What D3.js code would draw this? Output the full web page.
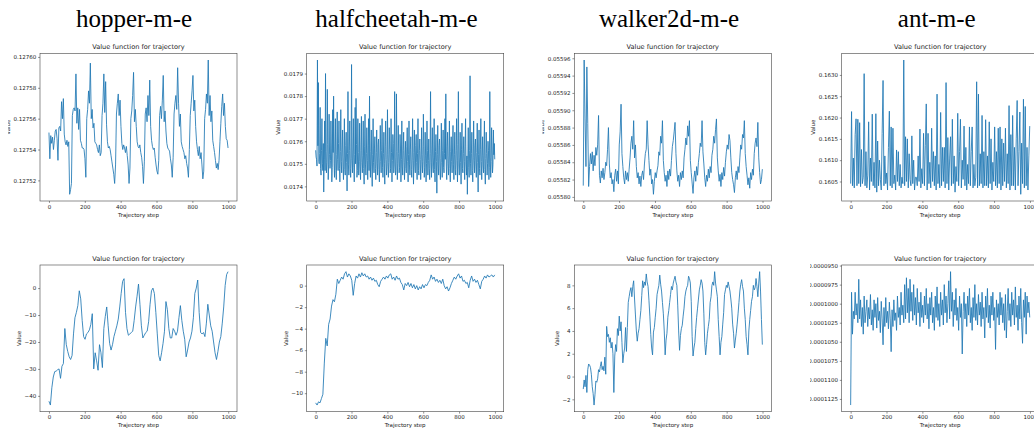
<!DOCTYPE html>
<html>
<head>
<meta charset="utf-8">
<script src="https://cdn.jsdelivr.net/npm/d3@7"></script>
<style>
	body { margin: 0; background: #fff; }
	svg { display: block; }
</style>
</head>
<body>
<svg id="chart" width="1034" height="428"></svg>
<script>
// column headers
var envNames = ["hopper-m-e", "halfcheetah-m-e", "walker2d-m-e", "ant-m-e"];
var plotTitle = "Value function for trajectory";
var xLabel = "Trajectory step";
var yLabel = "Value";
var stepTicks = [0, 200, 400, 600, 800, 1000];

// value along the trajectory (evenly spaced over steps 0..999)
var hopperTop = [
	0.127551,0.127534,0.127549,0.127544,0.127548,0.12754,0.127546,0.127552,0.127553,0.127547,
	0.127533,0.127554,0.127555,0.127552,0.127571,0.12756,0.127573,0.12755,0.127545,0.127543,
	0.127546,0.127542,0.127545,0.127511,0.127514,0.127518,0.127562,0.127566,0.127567,0.127565,
	0.127589,0.127557,0.127567,0.127553,0.127566,0.127546,0.127544,0.127541,0.127541,0.12754,
	0.127534,0.127522,0.12756,0.127566,0.127578,0.12757,0.127596,0.12756,0.127566,0.127554,
	0.127557,0.127545,0.127544,0.127543,0.12754,0.127538,0.127543,0.127536,0.127538,0.127562,
	0.12757,0.127589,0.127564,0.127584,0.127556,0.127545,0.127541,0.127542,0.12754,0.127536,
	0.127532,0.127528,0.127524,0.127518,0.12753,0.127563,0.12757,0.127576,0.127562,0.127572,
	0.127555,0.127544,0.12754,0.127543,0.127541,0.127538,0.127542,0.127536,0.12753,0.127518,
	0.127528,0.12756,0.127565,0.127575,0.12759,0.127558,0.127566,0.127555,0.127545,0.127542,
	0.127541,0.127543,0.127538,0.127535,0.127529,0.127518,0.127532,0.127563,0.127567,0.127558,
	0.127575,0.127562,0.127585,0.127555,0.127546,0.127542,0.12754,0.127541,0.127535,0.12753,
	0.127526,0.127524,0.127533,0.127562,0.127568,0.12756,0.127572,0.127588,0.127558,0.127565,
	0.127552,0.127544,0.127541,0.12754,0.127539,0.127534,0.12753,0.127522,0.127535,0.127563,
	0.12757,0.127575,0.127566,0.127593,0.12757,0.127555,0.127563,0.127545,0.127542,0.12754,
	0.127538,0.127534,0.127536,0.127531,0.127528,0.127522,0.12754,0.127562,0.12757,0.127578,
	0.127588,0.127565,0.127572,0.127555,0.127545,0.12754,0.127536,0.127542,0.127534,0.127538,
	0.12753,0.127521,0.127526,0.12756,0.127566,0.127576,0.12757,0.127598,0.127562,0.127575,
	0.127558,0.127565,0.127546,0.127542,0.127538,0.127533,0.127528,0.127531,0.127527,0.127533,
	0.127545,0.127557,0.127568,0.127576,0.127562,0.12757,0.127555,0.127547,0.127546,0.127541
];

var halfcheetahTop = [
	0.01756,0.01753,0.01752,0.01749,0.01796,0.01758,0.01786,0.01751,0.0175,0.017545,0.01775,0.01748,0.01745,0.01756,0.0177,0.0175,0.01747,0.01759,0.017375,0.01752,
	0.01769,0.01747,0.0179,0.017555,0.01746,0.017505,0.01783,0.017585,0.01743,0.017495,0.01772,0.01754,0.01748,0.017515,0.01769,0.01757,0.01742,0.017485,0.01774,0.01755,
	0.0178,0.0175,0.01744,0.017575,0.0177,0.01747,0.01743,0.01754,0.01773,0.01752,0.01747,0.01759,0.01769,0.01748,0.01742,0.017555,0.01774,0.01751,0.01746,0.017565,
	0.01765,0.01749,0.01743,0.01753,0.0177,0.017475,0.01745,0.01758,0.01764,0.017505,0.01738,0.017545,0.01782,0.017495,0.01745,0.01756,0.01769,0.01748,0.01744,0.017525,
	0.01794,0.017515,0.01746,0.01757,0.0177,0.017485,0.01742,0.01754,0.01775,0.0175,0.01779,0.017585,0.01744,0.01747,0.0177,0.01755,0.01745,0.01751,0.01768,0.01749,
	0.01743,0.01756,0.01771,0.017505,0.01746,0.017535,0.01769,0.01748,0.01741,0.017575,0.01772,0.017495,0.01745,0.017545,0.01766,0.017515,0.01743,0.01758,0.0177,0.01747,
	0.0178,0.01752,0.01744,0.017555,0.01765,0.01749,0.0174,0.01754,0.0177,0.017505,0.01746,0.01757,0.01762,0.01748,0.01743,0.01755,0.01765,0.0175,0.01745,0.017585,
	0.01761,0.017475,0.01742,0.01753,0.01767,0.01751,0.01746,0.01756,0.0177,0.017485,0.01744,0.017545,0.01764,0.0175,0.01741,0.017575,0.01769,0.01752,0.01745,0.01749,
	0.01774,0.01754,0.01744,0.017505,0.01766,0.017565,0.01746,0.01748,0.0177,0.01755,0.01742,0.017515,0.01763,0.01759,0.01746,0.017495,0.01782,0.01753,0.01745,0.01747,
	0.01781,0.017555,0.01743,0.0175,0.01767,0.017545,0.01746,0.017485,0.01763,0.01757,0.01742,0.01752,0.01769,0.01749,0.01745,0.01756,0.01764,0.017505,0.01743,0.017535,
	0.0176,0.01748,0.01746,0.017575,0.01766,0.01751,0.01742,0.01754,0.01769,0.017495,0.01745,0.017565,0.01762,0.017475,0.01744,0.01753,0.0177,0.017515,0.01741,0.01755,
	0.01765,0.01749,0.01746,0.01758,0.01763,0.017505,0.01743,0.017545,0.0177,0.01747,0.01745,0.01756,0.01761,0.01752,0.01743,0.017495,0.01766,0.01754,0.01746,0.01751,
	0.01772,0.017575,0.01744,0.017485,0.01764,0.017535,0.01742,0.0175,0.01769,0.01756,0.01745,0.017515,0.01761,0.01748,0.01743,0.017545,0.01782,0.017505,0.01744,0.01757,
	0.01766,0.01749,0.01746,0.01753,0.0177,0.017475,0.01742,0.017555,0.01763,0.01751,0.01737,0.01754,0.01767,0.017495,0.01745,0.01758,0.01761,0.01747,0.01743,0.017525,
	0.01768,0.017505,0.01744,0.01756,0.01765,0.017485,0.01746,0.017545,0.0177,0.01752,0.01781,0.01749,0.01743,0.017575,0.01764,0.0175,0.01745,0.017535,0.01769,0.01748,
	0.01742,0.017555,0.01762,0.01751,0.01746,0.01757,0.01767,0.017495,0.01743,0.01754,0.01764,0.017475,0.01745,0.01756,0.0177,0.017515,0.01742,0.017585,0.01782,0.01749,
	0.01745,0.01753,0.01764,0.017505,0.01741,0.017565,0.01768,0.01748,0.01746,0.017545,0.01762,0.01751,0.01743,0.017575,0.0177,0.017495,0.01745,0.017535,0.017365,0.01752,
	0.01766,0.017485,0.01744,0.01756,0.01789,0.0175,0.01745,0.017545,0.01764,0.01747,0.01742,0.01753,0.01769,0.017515,0.01746,0.01758,0.01761,0.01749,0.01744,0.01755,
	0.01768,0.017505,0.017375,0.01754,0.01765,0.01748,0.01745,0.017565,0.0177,0.01751,0.01743,0.017535,0.01762,0.017495,0.01746,0.01757,0.01769,0.017475,0.01741,0.017525,
	0.01764,0.017545,0.01745,0.0175,0.0176,0.01756,0.01743,0.017485,0.01782,0.01753,0.01744,0.01751,0.01766,0.017575,0.01746,0.017495,0.01765,0.01754,0.01759,0.01752
];

var walkerTop = [
	0.055813,0.055958,0.05589,0.055835,0.05595,0.055885,0.055812,0.055835,0.05585,0.055838,
	0.055852,0.05583,0.055848,0.055836,0.055857,0.055848,0.05586,0.055894,0.055825,0.055816,
	0.05583,0.055822,0.055833,0.05582,0.055828,0.05584,0.055836,0.055855,0.05588,0.055838,
	0.055822,0.055828,0.055815,0.05582,0.055806,0.055825,0.055832,0.055818,0.05583,0.055815,
	0.05586,0.055875,0.055907,0.05585,0.055835,0.055822,0.055815,0.05583,0.05582,0.055828,
	0.055818,0.055832,0.055845,0.055862,0.05587,0.055855,0.055888,0.055845,0.05586,0.055835,
	0.055822,0.055828,0.055815,0.055824,0.055812,0.055825,0.05583,0.05582,0.055838,0.05585,
	0.055855,0.055888,0.05586,0.055842,0.055825,0.055832,0.055815,0.05582,0.055803,0.055818,
	0.055828,0.055822,0.05583,0.055836,0.055852,0.055848,0.05587,0.055862,0.055888,0.055842,
	0.055828,0.055818,0.055825,0.055812,0.05583,0.05582,0.055832,0.055824,0.055842,0.055858,
	0.055865,0.055875,0.055886,0.05585,0.05583,0.055818,0.055825,0.055812,0.055828,0.05582,
	0.05583,0.055822,0.055845,0.055855,0.055868,0.05586,0.055882,0.05587,0.055888,0.055842,
	0.055828,0.055816,0.055804,0.055822,0.05583,0.055818,0.055835,0.055825,0.05584,0.05585,
	0.055862,0.055858,0.055888,0.055852,0.055838,0.055822,0.055812,0.055825,0.055818,0.055832,
	0.055822,0.055835,0.055828,0.055848,0.055855,0.05587,0.055862,0.055878,0.05589,0.055845,
	0.05583,0.055818,0.055826,0.055812,0.055828,0.05582,0.055834,0.055824,0.05584,0.055852,
	0.05586,0.055855,0.055872,0.055865,0.055845,0.055828,0.05582,0.055814,0.055805,0.055822,
	0.05583,0.05582,0.055835,0.055828,0.055845,0.05586,0.055855,0.055872,0.055868,0.055888,
	0.05585,0.055835,0.055825,0.055814,0.055822,0.05581,0.055828,0.05582,0.055832,0.055825,
	0.05585,0.055862,0.055868,0.055858,0.055886,0.055845,0.055828,0.055815,0.05582,0.055832
];

var antTop = [
	0.16045,0.16214,0.1604,0.16105,0.16035,0.1616,0.16197,0.1604,0.16196,0.16045,
	0.16188,0.16038,0.16125,0.16045,0.1606,0.16303,0.1604,0.1612,0.16035,0.16065,
	0.1619,0.1603,0.16105,0.1605,0.16208,0.1604,0.16095,0.16035,0.16209,0.16025,
	0.16145,0.1604,0.161,0.16055,0.1603,0.16163,0.16287,0.1604,0.1611,0.16045,
	0.1607,0.1603,0.1613,0.16215,0.1604,0.16178,0.16035,0.16175,0.16045,0.16065,
	0.1603,0.16124,0.1605,0.1612,0.1604,0.1609,0.16035,0.1606,0.16045,0.16335,
	0.1604,0.16155,0.1605,0.1615,0.16035,0.16115,0.16055,0.1604,0.16157,0.16045,
	0.161,0.1603,0.1606,0.1606,0.1604,0.1611,0.1605,0.16173,0.16035,0.1608,
	0.16045,0.16163,0.1604,0.16135,0.16232,0.1603,0.16163,0.16045,0.16095,0.16035,
	0.16175,0.1605,0.1612,0.1604,0.1611,0.1603,0.16255,0.16045,0.1609,0.16035,
	0.16212,0.1604,0.1613,0.1605,0.1613,0.16035,0.16282,0.16045,0.16153,0.1603,
	0.16105,0.16155,0.1604,0.16196,0.16045,0.1611,0.16025,0.16085,0.1605,0.1621,
	0.1604,0.1612,0.16196,0.16035,0.161,0.16055,0.1618,0.1604,0.1613,0.1603,
	0.1609,0.16045,0.16178,0.1604,0.1612,0.16178,0.16035,0.1609,0.1604,0.1606,
	0.16284,0.16035,0.16255,0.1604,0.16115,0.16045,0.16205,0.16035,0.1612,0.1604,
	0.16195,0.1604,0.1611,0.16035,0.1619,0.16045,0.1615,0.1603,0.16095,0.1605,
	0.16178,0.1604,0.1612,0.16035,0.16175,0.16045,0.16178,0.1603,0.1615,0.1604,
	0.1614,0.1605,0.16175,0.16035,0.16115,0.16045,0.16228,0.1603,0.1616,0.1604,
	0.16205,0.1604,0.1613,0.1603,0.1615,0.1624,0.1604,0.1612,0.16213,0.1602,
	0.1614,0.16045,0.16243,0.16035,0.16226,0.1604,0.1613,0.1603,0.1611,0.1618
];

var hopperBottom = [
	-42,-43.4,-37,-33,-31,-30.8,-30.3,-30,-33.5,-29,
	-28,-15,-21,-23.5,-25.5,-26.5,-25,-17,-11,-9,
	-6.5,-1,-4,-12,-18,-19,-17,-16.5,-15.5,-13.5,
	-9.5,-30,-24,-27,-30.5,-21,-24,-29.5,-15,-10.5,
	-7,-14,-20.5,-23,-21,-18,-16,-14,-11.5,-7,
	-2,2.5,3.5,-9,-15,-17.5,-17,-16.5,-16,-12,
	-7,-3,1.5,-6,-14,-18.5,-17.5,-16.5,-16,-12.5,
	-6,-1,0,-2,-9,-17,-25,-27,-24,-20.5,
	-16,-5,-8,-15,-18.5,-18.5,-15,-16,-17.5,-16,
	-11,-6.5,-12,-16,-19,-25.5,-23,-20,-18.5,-16,
	-11,-2,0,3,-9,-16.5,-17,-16.5,-18,-13,
	-6,-10,-14,-16,-20,-24,-26.5,-23.5,-20,-18,
	-13,-7,1,5,6.1
];

var halfcheetahBottom = [
	-10.9,-11.1,-10.8,-10.9,-10.5,-10.1,-7.2,-4.9,-5.6,-3.6,
	-3.1,-1.9,-1.3,-1.5,-0.8,0.6,0.2,0.5,0.8,0.6,
	1.1,1.3,0.8,1.1,0.9,0.5,-0.9,0.2,0.9,0.7,
	1.1,0.8,1.2,0.9,1.1,0.8,0.9,0.6,0.8,0.5,
	0.7,0.4,0.5,0.1,-0.1,0.4,0.6,0.8,0.6,0.9,
	0.7,1.0,1.1,0.6,0.8,0.5,0.9,0.6,0.7,0.3,
	0.1,-0.4,0.2,0.0,0.3,-0.1,0.2,-0.2,0.1,-0.3,
	0.0,-0.4,-0.1,-0.3,0.1,-0.2,0.1,0.0,0.3,0.5,
	1.0,0.6,0.8,0.4,0.6,0.3,0.5,0.2,0.6,0.0,
	-0.3,-0.1,-0.5,-0.2,0.2,0.5,0.8,0.6,0.9,1.1,
	0.7,0.9,0.4,0.5,0.2,0.3,-0.2,0.5,0.9,0.4,
	0.6,0.3,0.5,0.1,-0.3,0.4,0.6,0.9,0.7,1.0,
	0.8,0.9,1.0,0.8,1.0
];

var walkerBottom = [
	-1.1,-0.3,-0.9,0.1,-1.4,0.6,1.1,1.0,0.8,0.2,
	-0.9,-1.5,-2.5,-1.6,-0.4,-0.5,-0.2,0.6,0.4,0.9,
	1.3,0.6,0.9,0.5,1.7,0.2,4.4,3.5,3.7,3.0,
	3.4,2.5,3.0,2.0,-1.4,1.8,2.8,2.2,4.2,3.6,
	5.3,4.0,4.8,3.0,1.2,2.0,2.5,4.3,2.2,4.3,
	6.5,7.0,7.5,7.8,7.0,7.9,8.4,6.8,5.4,4.0,
	3.1,3.8,4.2,5.0,5.8,7.1,8.4,7.8,8.3,8.0,
	9.0,8.3,7.9,6.7,5.3,3.7,2.5,1.9,3.9,4.3,
	5.2,6.0,7.2,7.6,8.0,8.9,8.1,7.5,6.5,5.5,
	4.0,1.9,3.2,3.8,5.2,5.8,6.5,7.2,7.9,7.6,
	8.2,8.5,8.8,8.3,8.0,6.2,4.0,2.3,3.6,4.2,
	4.5,5.3,6.0,7.0,7.5,7.8,8.0,8.8,8.6,8.2,
	6.6,3.5,1.8,2.5,3.0,4.2,5.2,6.0,6.8,7.6,
	8.0,8.5,8.2,7.5,5.5,3.0,1.9,2.8,3.8,4.4,
	5.0,6.5,7.0,8.0,8.3,8.0,9.2,8.2,7.6,7.0,
	5.0,3.5,1.9,3.0,3.5,4.6,5.6,7.2,7.6,8.0,
	7.8,8.3,7.9,7.5,6.8,6.0,4.6,3.8,2.5,3.2,
	3.8,4.6,5.5,6.5,7.5,8.1,8.5,7.9,7.5,6.0,
	5.0,3.5,2.8,1.9,4.0,5.0,5.8,6.6,7.0,8.0,
	7.6,7.8,8.6,7.9,7.0,8.2,9.2,7.5,5.0,2.8
];

var antBottom = [
	-0.0001133,-0.0000985,-0.000104,-0.000101,-0.000102,-0.0000985,-0.0001015,-0.0001,-0.0001025,-0.0000968,
	-0.000102,-0.0000995,-0.000103,-0.0001005,-0.000104,-0.000099,-0.0001025,-0.000101,-0.0000995,-0.000103,
	-0.0001005,-0.000102,-0.0000988,-0.0001028,-0.0001008,-0.0001035,-0.0000995,-0.0001018,-0.0001,-0.0001032,
	-0.0000992,-0.0001022,-0.000101,-0.0001038,-0.0000997,-0.000102,-0.0001054,-0.0001005,-0.000103,-0.0000992,
	-0.0001025,-0.000101,-0.0001033,-0.0000998,-0.000102,-0.0001063,-0.0001008,-0.000103,-0.0000995,-0.0001022,
	-0.0001012,-0.0001035,-0.000099,-0.0001018,-0.0001005,-0.0001028,-0.0000985,-0.0001015,-0.0001002,-0.0001025,
	-0.0000975,-0.000102,-0.0000966,-0.0001012,-0.000098,-0.0001025,-0.0000968,-0.000101,-0.0000985,-0.0001022,
	-0.0000975,-0.0001015,-0.0000992,-0.0001028,-0.000098,-0.0001012,-0.0000998,-0.000103,-0.0000985,-0.0001018,
	-0.0001002,-0.0001025,-0.000099,-0.0001015,-0.000098,-0.000102,-0.0001,-0.0001033,-0.0000992,-0.0001015,
	-0.0000985,-0.0001025,-0.0001005,-0.0001035,-0.000099,-0.0001018,-0.0000978,-0.0001022,-0.0001,-0.000103,
	-0.0000985,-0.0001015,-0.0000995,-0.0001028,-0.0000975,-0.0001012,-0.000099,-0.0001025,-0.0001,-0.000097,
	-0.000102,-0.0000958,-0.000101,-0.0000985,-0.000103,-0.0000995,-0.0001015,-0.000098,-0.0001022,-0.0001005,
	-0.0001035,-0.000099,-0.0001018,-0.0001,-0.0001066,-0.000101,-0.0000985,-0.000102,-0.0001,-0.000103,
	-0.000099,-0.0001015,-0.000098,-0.0001025,-0.0001005,-0.0001035,-0.0000992,-0.0001018,-0.0000975,-0.0001022,
	-0.0001,-0.0001028,-0.0000988,-0.0001015,-0.0000998,-0.000103,-0.0000985,-0.000102,-0.0001005,-0.0001045,
	-0.000099,-0.0001018,-0.000098,-0.0001025,-0.0001002,-0.0001032,-0.000099,-0.0001015,-0.0000985,-0.0001022,
	-0.0001005,-0.000106,-0.0000995,-0.0001018,-0.0001,-0.0001028,-0.0000985,-0.0001015,-0.0000992,-0.0001025,
	-0.0001,-0.0001035,-0.0000988,-0.0001045,-0.000101,-0.000098,-0.0001022,-0.0001,-0.000103,-0.0000985,
	-0.0001015,-0.0000995,-0.0001028,-0.0000978,-0.0001018,-0.0001002,-0.0001035,-0.000099,-0.000102,-0.000098,
	-0.0001025,-0.0001052,-0.0000995,-0.0001018,-0.0000985,-0.000104,-0.000099,-0.0001012,-0.0000998,-0.0001018
];

// y tick values for each panel
var hopperTopTicks = [0.12752, 0.12754, 0.12756, 0.12758, 0.12760];
var halfcheetahTopTicks = [0.0174, 0.0175, 0.0176, 0.0177, 0.0178, 0.0179];
var walkerTopTicks = [0.05580, 0.05582, 0.05584, 0.05586, 0.05588, 0.05590, 0.05592, 0.05594, 0.05596];
var antTopTicks = [0.1605, 0.1610, 0.1615, 0.1620, 0.1625, 0.1630];
var hopperBottomTicks = [-40, -30, -20, -10, 0];
var halfcheetahBottomTicks = [-10, -8, -6, -4, -2, 0];
var walkerBottomTicks = [-2, 0, 2, 4, 6, 8];
var antBottomTicks = [-0.0001125, -0.0001100, -0.0001075, -0.0001050, -0.0001025, -0.0001000, -0.0000975, -0.0000950];

var panels = [
	{col: 0, row: 0, values: hopperTop, ticks: hopperTopTicks, fmt: ".5f"},
	{col: 1, row: 0, values: halfcheetahTop, ticks: halfcheetahTopTicks, fmt: ".4f"},
	{col: 2, row: 0, values: walkerTop, ticks: walkerTopTicks, fmt: ".5f"},
	{col: 3, row: 0, values: antTop, ticks: antTopTicks, fmt: ".4f"},
	{col: 0, row: 1, values: hopperBottom, ticks: hopperBottomTicks, fmt: "d"},
	{col: 1, row: 1, values: halfcheetahBottom, ticks: halfcheetahBottomTicks, fmt: "d"},
	{col: 2, row: 1, values: walkerBottom, ticks: walkerBottomTicks, fmt: "d"},
	{col: 3, row: 1, values: antBottom, ticks: antBottomTicks, fmt: ".7f"}
];

// layout (each panel is a shrunken matplotlib figure)
var colLeft = [40, 306.7, 574.3, 841.7];
var rowTop = [53.3, 265];
var rowHeight = [147.7, 146.7];
var axW = 197;
var headerX = [134, 396.5, 669, 936.7];
var tickFont = 5.5, titleFont = 6.6;
var lineColor = "#1f77b4", frameColor = "#444", textColor = "#222";
var sansFont = "'DejaVu Sans', sans-serif";

var svg = d3.select("#chart");
var defs = svg.append("defs");

// column headers
svg.selectAll(".header")
	.data(envNames)
	.enter()
	.append("text")
	.attr("class", "header")
	.attr("x", function(d, i) { return headerX[i]; })
	.attr("y", 26.5)
	.attr("text-anchor", "middle")
	.attr("font-family", "'Liberation Serif', 'Times New Roman', serif")
	.attr("font-size", 25)
	.attr("fill", "#000")
	.text(function(d) { return d; });

panels.forEach(function(p, k) {
	var left = colLeft[p.col], top = rowTop[p.row], h = rowHeight[p.row];

	// clip to the original figure canvas (labels spilling left get cut like in the source)
	defs.append("clipPath").attr("id", "fig" + k)
		.append("rect")
		.attr("x", left - 31.8)
		.attr("y", top - 23)
		.attr("width", 254)
		.attr("height", 191);

	var g = svg.append("g").attr("clip-path", "url(#fig" + k + ")");

	var n = p.values.length;
	var pts = p.values.map(function(v, i) { return [i * 999 / (n - 1), v]; });

	// matplotlib style 5% margins
	var ext = d3.extent(p.values);
	var pad = (ext[1] - ext[0]) * 0.05;
	var x = d3.scaleLinear().domain([-49.95, 1048.95]).range([left, left + axW]);
	var y = d3.scaleLinear().domain([ext[0] - pad, ext[1] + pad]).range([top + h, top]);

	// data line
	g.append("path")
		.datum(pts)
		.attr("fill", "none")
		.attr("stroke", lineColor)
		.attr("stroke-width", 0.85)
		.attr("stroke-linejoin", "round")
		.attr("d", d3.line()
			.x(function(d) { return x(d[0]); })
			.y(function(d) { return y(d[1]); }));

	// axes
	var xAxis = g.append("g")
		.attr("transform", "translate(0," + (top + h) + ")")
		.call(d3.axisBottom(x).tickValues(stepTicks).tickFormat(d3.format("d")).tickSize(1.9).tickPadding(1.9));

	var yAxis = g.append("g")
		.attr("transform", "translate(" + left + ",0)")
		.call(d3.axisLeft(y).tickValues(p.ticks).tickFormat(d3.format(p.fmt)).tickSize(1.9).tickPadding(1.9));

	[xAxis, yAxis].forEach(function(a) {
		a.select(".domain").remove();
		a.attr("font-size", tickFont)
			.attr("font-family", sansFont)
			.attr("color", textColor);
		a.selectAll(".tick line").attr("stroke", frameColor).attr("stroke-width", 0.6);
	});

	// frame
	g.append("rect")
		.attr("x", left)
		.attr("y", top)
		.attr("width", axW)
		.attr("height", h)
		.attr("fill", "none")
		.attr("stroke", frameColor)
		.attr("stroke-width", 0.6);

	// title and axis labels
	g.append("text")
		.attr("x", left + axW / 2)
		.attr("y", top - 4.5)
		.attr("text-anchor", "middle")
		.attr("font-family", sansFont)
		.attr("font-size", titleFont)
		.attr("fill", textColor)
		.text(plotTitle);

	g.append("text")
		.attr("x", left + axW / 2)
		.attr("y", top + h + 15.5)
		.attr("text-anchor", "middle")
		.attr("font-family", sansFont)
		.attr("font-size", tickFont)
		.attr("fill", textColor)
		.text(xLabel);

	var bb = yAxis.node().getBBox();
	g.append("text")
		.attr("transform", "translate(" + (left + bb.x - 3.4) + "," + (top + h / 2) + ") rotate(-90)")
		.attr("text-anchor", "middle")
		.attr("font-family", sansFont)
		.attr("font-size", tickFont)
		.attr("fill", textColor)
		.text(yLabel);
});
</script>
</body>
</html>
